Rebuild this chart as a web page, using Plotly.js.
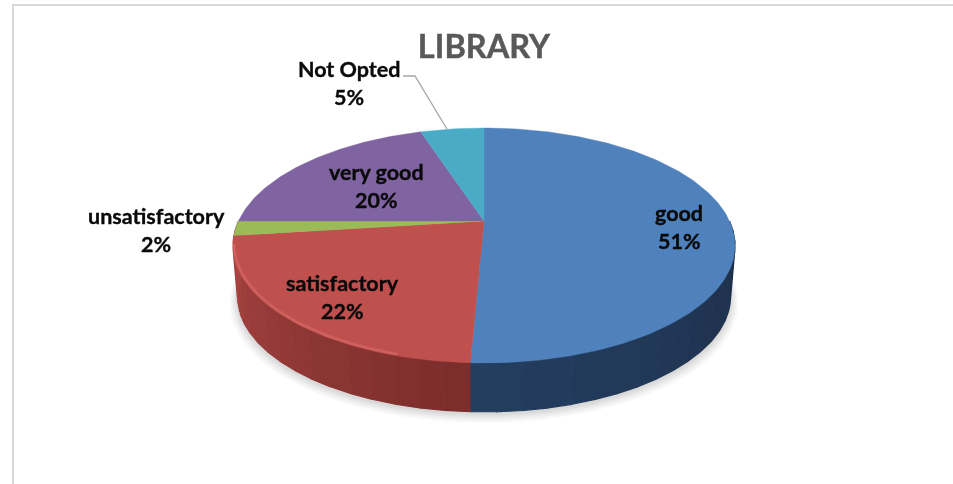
<!DOCTYPE html>
<html>
<head>
<meta charset="utf-8">
<script src="https://cdn.plot.ly/plotly-3.0.1.min.js"></script>
<style>
html,body{margin:0;padding:0;background:#fff;overflow:hidden}
#chart{width:953px;height:484px;filter:blur(0.35px)}
#chart .annotation-text{stroke:#0a0a0a;stroke-width:0.35px}
#chart .gtitle{stroke:#595959;stroke-width:0.45px}
</style>
</head>
<body>
<div id="chart"></div>
<script>
// ---- data ----
const categories = ['good', 'satisfactory', 'unsatisfactory', 'very good', 'Not Opted'];
const values = [50.7, 22.3, 2, 20, 5];
const chartTitle = 'LIBRARY';

// ---- styles ----
const topColors = ['#4f81bc', '#c0504d', '#9bbb59', '#8064a2', '#4aabc6'];
const wallLight = [[36, 62, 96], [172, 70, 67]];
const wallDark = [[29, 46, 72], [122, 45, 43]];
// label centres in page pixels [x, y of name line, y of percent line]
const labelPos = [[679, 213, 241], [342, 283, 311], [156, 216, 244], [376, 172, 200], [349, 69, 97]];

// ---- projection of the tilted disc onto the page ----
const CX = 484, AY = 221, A = 245.5, B = 112.4, K = 0.2086;
const YC = 245.5, DEPTH = 51, SHRINK = 0.982;
function rim(deg) {
  const t = deg * Math.PI / 180, w = 1 + K * Math.cos(t);
  return [CX + A * Math.sin(t) / w, AY - B * Math.cos(t) / w];
}
function low(deg, extra) {
  const p = rim(deg), s = SHRINK + (extra || 0);
  return [CX + (p[0] - CX) * s, YC + (p[1] - YC) * s + DEPTH];
}
function range(a, b, step) {
  const out = [], n = Math.max(1, Math.ceil(Math.abs(b - a) / step));
  for (let i = 0; i <= n; i++) out.push(a + (b - a) * i / n);
  return out;
}

const total = values.reduce((s, v) => s + v, 0);
const edges = [0];
values.forEach(v => edges.push(edges[edges.length - 1] + v / total * 360));

const traces = [];
const poly = (pts, color, lineW, extra) => traces.push(Object.assign({
  type: 'scatter', mode: 'lines', x: pts.map(p => p[0]), y: pts.map(p => p[1]),
  fill: 'toself', fillcolor: color, line: {color: color, width: lineW},
  hoverinfo: 'skip', showlegend: false
}, extra || {}));

// soft shadow under the disc
[0.030, 0.022, 0.015, 0.009, 0.004].forEach(e => {
  const pts = range(0, 360, 3).map(d => {
    const p = low(d, e);
    return [p[0], p[1] + 2 + e * 170];
  });
  traces.push({type: 'scatter', mode: 'lines', x: pts.map(p => p[0]), y: pts.map(p => p[1]),
    fill: 'toself', fillcolor: 'rgba(110,110,110,0.055)', line: {width: 0, color: 'rgba(0,0,0,0)'},
    hoverinfo: 'skip', showlegend: false});
});

// side wall: shaded strips for the two slices that face the viewer
[0, 1].forEach(i => {
  const a = Math.max(edges[i], 90), b = i === 1 ? 270 : edges[i + 1];
  const n = Math.ceil((b - a) / 5);
  for (let j = 0; j < n; j++) {
    const d0 = a + (b - a) * j / n, d1 = a + (b - a) * (j + 1) / n;
    const frac = (j + 0.5) / n;
    const c = wallDark[i].map((s, k) => Math.round(s + (wallLight[i][k] - s) * frac));
    const arc = range(d0, d1, 1);
    const pts = arc.map(rim).concat(arc.slice().reverse().map(d => low(d)));
    poly(pts, 'rgb(' + c.join(',') + ')', 1.2);
  }
});

// top face slices, one trace per category
values.forEach((v, i) => {
  const pts = [[CX, AY]].concat(range(edges[i], edges[i + 1], 1).map(rim));
  pts.push([CX, AY]);
  poly(pts, topColors[i], 0.4, {name: categories[i], text: categories[i]});
});

// bright bevel along the front rim of the red slice
[[4, 'rgba(224,120,116,0.14)'], [2, 'rgba(232,130,126,0.30)']].forEach(s => {
  const pts = range(edges[1] + 14, 258, 2).map(d => { const p = rim(d); return [CX + (p[0]-CX)*0.996, p[1] - 1.5]; });
  traces.push({type: 'scatter', mode: 'lines', x: pts.map(p => p[0]), y: pts.map(p => p[1]),
    line: {color: s[1], width: s[0]}, hoverinfo: 'skip', showlegend: false});
});

// leader line for the "Not Opted" label
const leadEnd = rim(edges[4] + (edges[5] - edges[4]) * 0.42);
traces.push({type: 'scatter', mode: 'lines', x: [403, 415, leadEnd[0]], y: [76, 76, leadEnd[1]],
  line: {color: '#a6a6a6', width: 1.3}, hoverinfo: 'skip', showlegend: false});

// labels
const annotations = [];
const font = {family: 'Lato, Carlito, "Open Sans", sans-serif', size: 21.5, color: '#0a0a0a', weight: 700};
categories.forEach((c, i) => {
  const pct = Math.round(values[i] / total * 100) + '%';
  [c, pct].forEach((txt, j) => annotations.push({
    x: labelPos[i][0], y: labelPos[i][j + 1], xref: 'x', yref: 'y', text: '<b>' + txt + '</b>',
    showarrow: false, xanchor: 'center', yanchor: 'middle', font: font
  }));
});

const layout = {
  width: 953, height: 484,
  margin: {l: 0, r: 0, t: 0, b: 0, pad: 0},
  paper_bgcolor: '#ffffff', plot_bgcolor: '#ffffff',
  title: {text: '<b>' + chartTitle + '</b>', x: 484 / 953, xanchor: 'center', y: 1 - 47 / 484, yanchor: 'middle',
    font: {family: 'Lato, Carlito, "Open Sans", sans-serif', size: 32.5, color: '#595959'}},
  xaxis: {range: [0, 953], visible: false, fixedrange: true},
  yaxis: {range: [484, 0], visible: false, fixedrange: true},
  showlegend: false,
  annotations: annotations,
  shapes: [
    {type: 'line', xref: 'x', yref: 'y', x0: 13, x1: 953, y0: 5, y1: 5, line: {color: '#d9d9d9', width: 2}, layer: 'below'},
    {type: 'line', xref: 'x', yref: 'y', x0: 13, x1: 13, y0: 4, y1: 484, line: {color: '#d9d9d9', width: 2}, layer: 'below'}
  ]
};
Plotly.newPlot('chart', traces, layout, {displayModeBar: false, staticPlot: true});
</script>
</body>
</html>
